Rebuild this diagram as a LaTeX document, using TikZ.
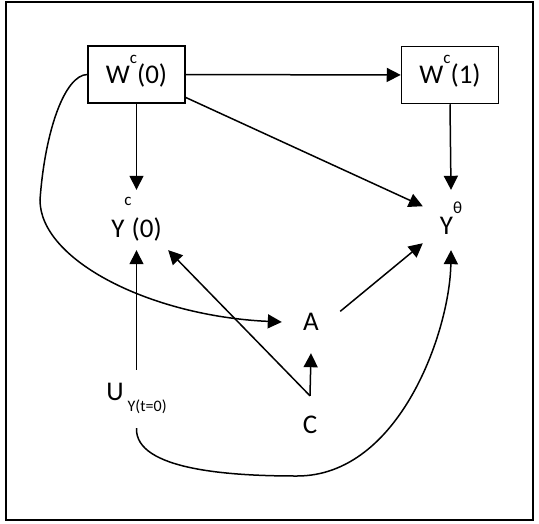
\documentclass[tikz,border=0pt]{standalone}
\usepackage{fontspec}
\setmainfont{Carlito}
\usepackage{tikz}
\usetikzlibrary{arrows.meta,calc}

% raised and lowered indices
\newcommand{\upidx}[2]{\raisebox{#1pt}{\fontsize{17}{17}\selectfont #2}}
\newcommand{\lowidx}[2]{\raisebox{-#1pt}{\fontsize{16}{16}\selectfont #2}}

\tikzset{
  box/.style={draw,line width=1.5pt,minimum width=97pt,minimum height=57pt,inner sep=0pt,text height=20pt,text depth=3pt},
  var/.style={inner sep=0pt},
  link/.style={->,line width=1.5pt}
}

\begin{document}
\begin{tikzpicture}[x=1pt,y=-1pt,>={Triangle[length=14pt,width=14pt]},every node/.style={font=\fontsize{27}{32}\selectfont}]
\useasboundingbox (0,0) rectangle (539,523);
\draw[line width=1.3pt] (6,2) rectangle (533,520);
\node[box](w0) at (136.5,74.5) {W\upidx{20}{c}(0)};
\node[box](w1) at (450,75) {W\upidx{20}{c}(1)};
\node[var,minimum width=63pt,minimum height=60pt,text height=34pt,text depth=0pt](yc0) at (136.5,220) {Y\upidx{32}{c}(0)};
\node[var,minimum width=56pt,minimum height=60pt,text height=28pt,text depth=0pt](yth) at (451,220) {Y\upidx{21}{θ}};
\node[var,minimum width=58pt,minimum height=62pt](a) at (311,322) {A};
\node[var,minimum width=30pt,minimum height=58pt](c) at (310,425) {C};
\node[var,minimum height=58pt,text height=9pt,text depth=7pt](u) at (136.5,399) {U\hspace{4pt}\lowidx{11}{Y(t=0)}};
\draw[link](w0)--(w1);
\draw[link](w0)--(yc0);
\draw[link](w0.-25)--(yth.154);
\draw[link](w1.south)--(yth.north);
\draw[link](w0.west) .. controls (65,75) and (45,130) .. (40,200) .. controls (40,260) and (150,316) .. (a.west);
\draw[link](a.20)--(yth);
\draw[link](c.north)--(a.south);
\draw[link](c.north)--(yc0.south east);
\draw[link](u)--(yc0);
\draw[link](u.south) .. controls (135,470) and (230,476) .. (297,476) .. controls (400,476) and (450,330) .. (yth.south);
\end{tikzpicture}
\end{document}
